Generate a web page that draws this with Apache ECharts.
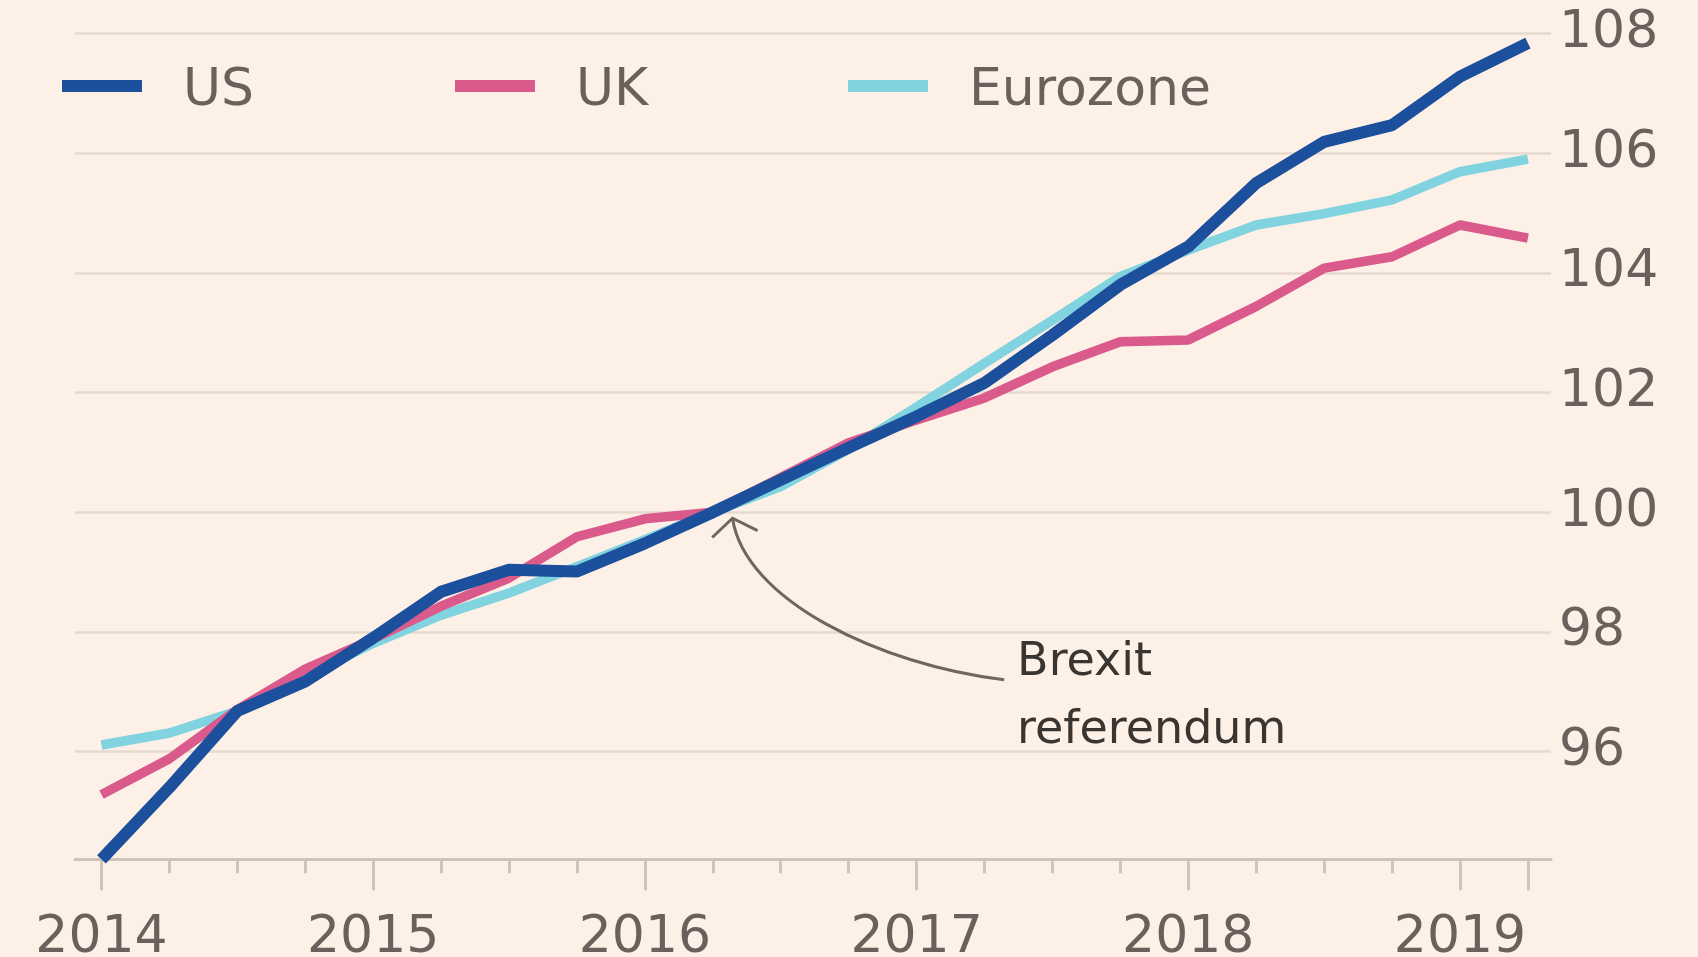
<!DOCTYPE html>
<html>
<head>
<meta charset="utf-8">
<script src="https://cdn.jsdelivr.net/npm/echarts@6/dist/echarts.min.js"></script>
<style>
html, body { margin: 0; padding: 0; background: #fdf0e7; }
#chart { width: 1698px; height: 957px; }
</style>
</head>
<body>
<div id="chart"></div>
<script>
// ---- Data (index, 2016 Q2 = 100) ----
const quarters = [
  '2014 Q1','2014 Q2','2014 Q3','2014 Q4',
  '2015 Q1','2015 Q2','2015 Q3','2015 Q4',
  '2016 Q1','2016 Q2','2016 Q3','2016 Q4',
  '2017 Q1','2017 Q2','2017 Q3','2017 Q4',
  '2018 Q1','2018 Q2','2018 Q3','2018 Q4',
  '2019 Q1','2019 Q2'
];
const usValues = [94.2, 95.4, 96.68, 97.17, 97.9, 98.67, 99.04, 99.01, 99.48, 100.0, 100.54, 101.08,
                  101.6, 102.16, 102.96, 103.8, 104.44, 105.5, 106.19, 106.47, 107.28, 107.84];
const ukValues = [95.28, 95.88, 96.7, 97.38, 97.88, 98.43, 98.9, 99.59, 99.89, 100.0, 100.58, 101.16,
                  101.54, 101.91, 102.43, 102.85, 102.88, 103.44, 104.08, 104.27, 104.8, 104.58];
const ezValues = [96.11, 96.31, 96.68, 97.25, 97.81, 98.28, 98.65, 99.09, 99.54, 100.0, 100.43, 101.05,
                  101.76, 102.49, 103.21, 103.94, 104.38, 104.8, 104.99, 105.22, 105.69, 105.9];
const yTickLabels = [96, 98, 100, 102, 104, 106, 108];

// ---- Annotation anchors (data coordinates: quarter index, index value) ----
const brexitNote = {
  text: 'Brexit\nreferendum',
  textAt: [13.48, 98.05],
  arrowFrom: [13.29, 97.2],
  ctrl1: [11.46, 97.45],
  ctrl2: [9.47, 98.53],
  arrowTo: [9.29, 99.9]
};

const FONT = 'DejaVu Sans';
const TEXT = '#6a615c';
const GRID = '#e6dad0';
const AXIS = '#d0c4ba';
const FS = 52;

const yearIdx = quarters.map((q, i) => q.endsWith('Q1') ? i : -1).filter(i => i >= 0);
const lastIdx = quarters.length - 1;
const majorTicks = yearIdx.concat([lastIdx]);
const minorTicks = quarters.map((q, i) => i).filter(i => majorTicks.indexOf(i) < 0);

const pairs = arr => arr.map((v, i) => [i, v]);

const chart = echarts.init(document.getElementById('chart'), null, { renderer: 'canvas' });

// legend swatch: a bar in the upper part of the item box (so it sits slightly above the text middle)
const SWATCH = 'path://M0,0L80,0L80,12L0,12Z M0,22L0.01,22L0.01,22.01L0,22.01Z';
const legendBase = {
  top: 65, padding: 0, itemWidth: 80, itemHeight: 22, icon: SWATCH,
  selectedMode: false,
  textStyle: { fontFamily: FONT, fontSize: FS, color: TEXT, padding: [0, 0, 0, 36] }
};

chart.setOption({
  backgroundColor: '#fdf0e7',
  animation: false,
  grid: { left: 75, right: 147, top: 33.5, bottom: 97.7, containLabel: false, outerBoundsMode: 'none' },
  legend: [
    Object.assign({}, legendBase, { left: 62, data: ['US'] }),
    Object.assign({}, legendBase, { left: 455, data: ['UK'] }),
    Object.assign({}, legendBase, { left: 848, data: ['Eurozone'] })
  ],
  xAxis: [
    {
      type: 'value', position: 'bottom', min: -0.39, max: 21.34,
      axisLine: { show: true, lineStyle: { color: AXIS, width: 3 } },
      axisTick: { show: true, customValues: majorTicks, length: 31, lineStyle: { color: AXIS, width: 3 } },
      axisLabel: {
        show: true, customValues: yearIdx, margin: 53,
        fontFamily: FONT, fontSize: FS, color: TEXT,
        formatter: v => quarters[Math.round(v)].slice(0, 4)
      },
      splitLine: { show: false }
    },
    {
      type: 'value', position: 'bottom', min: -0.39, max: 21.34,
      axisLine: { show: false },
      axisTick: { show: true, customValues: minorTicks, length: 14, lineStyle: { color: AXIS, width: 3 } },
      axisLabel: { show: false },
      splitLine: { show: false }
    }
  ],
  yAxis: {
    type: 'value', position: 'right', min: 94.2, max: 108,
    splitNumber: 7, minInterval: 2, maxInterval: 2,
    axisLine: { show: false },
    axisTick: { show: false },
    axisLabel: {
      margin: 8, fontFamily: FONT, fontSize: FS, color: TEXT, padding: [12, 0, 0, 0],
      formatter: v => {
        const r = Math.round(v);
        return (Math.abs(v - r) < 1e-6 && yTickLabels.indexOf(r) >= 0) ? String(r) : '';
      }
    },
    splitLine: { show: true, lineStyle: { color: GRID, width: 2.5 } }
  },
  series: [
    { name: 'Eurozone', type: 'line', data: pairs(ezValues), showSymbol: false, symbol: 'none',
      color: '#80d3df', lineStyle: { width: 9.5, color: '#80d3df', join: 'round' } },
    { name: 'UK', type: 'line', data: pairs(ukValues), showSymbol: false, symbol: 'none',
      color: '#da5a8c', lineStyle: { width: 9.5, color: '#da5a8c', join: 'round' } },
    { name: 'US', type: 'line', data: pairs(usValues), showSymbol: false, symbol: 'none',
      color: '#1c4f9c', lineStyle: { width: 12, color: '#1c4f9c', join: 'round' } }
  ]
});

// ---- Brexit annotation placed through the chart's own scales ----
(function drawAnnotation() {
  const toPx = p => chart.convertToPixel({ xAxisIndex: 0, yAxisIndex: 0 }, p);
  const p0 = toPx(brexitNote.arrowFrom), c1 = toPx(brexitNote.ctrl1),
        c2 = toPx(brexitNote.ctrl2), p3 = toPx(brexitNote.arrowTo), t = toPx(brexitNote.textAt);
  const dx = p3[0] - c2[0], dy = p3[1] - c2[1];
  const len = Math.hypot(dx, dy);
  const bx = -dx / len, by = -dy / len;
  const ang = 55 * Math.PI / 180, wing = 28;
  const rot = (x, y, a) => [x * Math.cos(a) - y * Math.sin(a), x * Math.sin(a) + y * Math.cos(a)];
  const w1 = rot(bx, by, ang), w2 = rot(bx, by, -ang);
  const stroke = '#6f6661';
  chart.setOption({
    graphic: [
      { type: 'bezierCurve', silent: true,
        shape: { x1: p0[0], y1: p0[1], cpx1: c1[0], cpy1: c1[1], cpx2: c2[0], cpy2: c2[1], x2: p3[0], y2: p3[1] },
        style: { stroke: stroke, lineWidth: 3, fill: null } },
      { type: 'polyline', silent: true,
        shape: { points: [[p3[0] + w1[0] * wing, p3[1] + w1[1] * wing], [p3[0], p3[1]], [p3[0] + w2[0] * wing, p3[1] + w2[1] * wing]] },
        style: { stroke: stroke, lineWidth: 3, fill: null, lineJoin: 'miter' } },
      { type: 'text', silent: true, x: t[0], y: t[1],
        style: { text: brexitNote.text, fontFamily: FONT, fontSize: 46, lineHeight: 68,
                 fill: '#3b3532', align: 'left', verticalAlign: 'top' } }
    ]
  });
})();
</script>
</body>
</html>
